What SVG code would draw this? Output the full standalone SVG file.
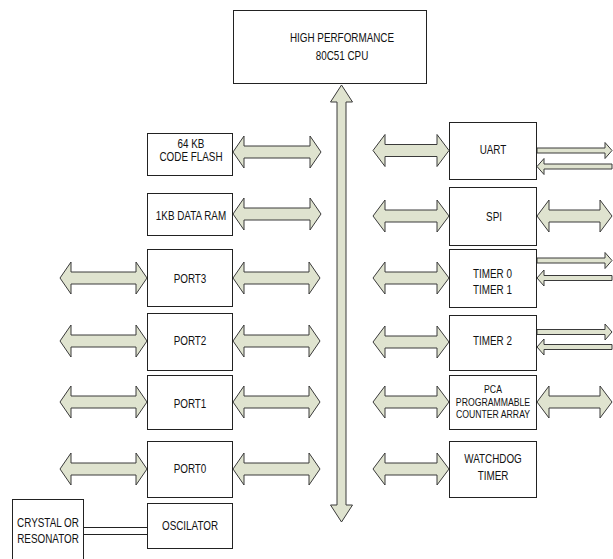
<svg xmlns="http://www.w3.org/2000/svg" width="613" height="559" viewBox="0 0 613 559">
<style>
.box{fill:#fff;stroke:#222;stroke-width:1}
.arr{fill:#dfe3cf;stroke:#3a3a3a;stroke-width:1;stroke-linejoin:miter}
.ln{stroke:#222;stroke-width:1;fill:none}
text{font-family:"Liberation Sans",Arial,sans-serif;font-size:12.5px;fill:#111;text-anchor:middle}
.sm{font-size:11px}
</style>
<rect width="613" height="559" fill="#fff"/>
<g id="connectors">
<path class="arr" d="M341.5,85 L352.5,102 L346,102 L346,505 L352.5,505 L341.5,522 L330.5,505 L337,505 L337,102 L330.5,102 Z"/>
<path class="arr" d="M233,152 L244,136 L244,146 L310,146 L310,136 L321,152 L310,168 L310,158 L244,158 L244,168 Z"/>
<path class="arr" d="M233,214 L244,198 L244,208 L310,208 L310,198 L321,214 L310,230 L310,220 L244,220 L244,230 Z"/>
<path class="arr" d="M60,278 L71,262 L71,272 L136,272 L136,262 L147,278 L136,294 L136,284 L71,284 L71,294 Z"/>
<path class="arr" d="M60,341 L71,325 L71,335 L136,335 L136,325 L147,341 L136,357 L136,347 L71,347 L71,357 Z"/>
<path class="arr" d="M60,402 L71,386 L71,396 L136,396 L136,386 L147,402 L136,418 L136,408 L71,408 L71,418 Z"/>
<path class="arr" d="M60,469 L71,453 L71,463 L136,463 L136,453 L147,469 L136,485 L136,475 L71,475 L71,485 Z"/>
<path class="arr" d="M233,278 L244,262 L244,272 L309,272 L309,262 L320,278 L309,294 L309,284 L244,284 L244,294 Z"/>
<path class="arr" d="M233,341 L244,325 L244,335 L309,335 L309,325 L320,341 L309,357 L309,347 L244,347 L244,357 Z"/>
<path class="arr" d="M233,402 L244,386 L244,396 L309,396 L309,386 L320,402 L309,418 L309,408 L244,408 L244,418 Z"/>
<path class="arr" d="M233,469 L244,453 L244,463 L309,463 L309,453 L320,469 L309,485 L309,475 L244,475 L244,485 Z"/>
<path class="arr" d="M373,150.5 L385,134.5 L385,144.5 L437,144.5 L437,134.5 L449,150.5 L437,166.5 L437,156.5 L385,156.5 L385,166.5 Z"/>
<path class="arr" d="M373,216 L385,200 L385,210 L437,210 L437,200 L449,216 L437,232 L437,222 L385,222 L385,232 Z"/>
<path class="arr" d="M373,278 L385,262 L385,272 L437,272 L437,262 L449,278 L437,294 L437,284 L385,284 L385,294 Z"/>
<path class="arr" d="M373,342 L385,326 L385,336 L437,336 L437,326 L449,342 L437,358 L437,348 L385,348 L385,358 Z"/>
<path class="arr" d="M373,402 L385,386 L385,396 L437,396 L437,386 L449,402 L437,418 L437,408 L385,408 L385,418 Z"/>
<path class="arr" d="M373,469 L385,453 L385,463 L437,463 L437,453 L449,469 L437,485 L437,475 L385,475 L385,485 Z"/>
<path class="arr" d="M537,216 L549,200 L549,210 L600,210 L600,200 L612,216 L600,232 L600,222 L549,222 L549,232 Z"/>
<path class="arr" d="M537,402 L549,386 L549,396 L600,396 L600,386 L612,402 L600,418 L600,408 L549,408 L549,418 Z"/>
<path class="arr" d="M537,148 L605,148 L605,142.5 L612,150.5 L605,158.5 L605,153 L537,153 Z"/>
<path class="arr" d="M612,164 L544,164 L544,158.5 L537,166.5 L544,174.5 L544,169 L612,169 Z"/>
<path class="arr" d="M537,258 L605,258 L605,252.5 L612,260.5 L605,268.5 L605,263 L537,263 Z"/>
<path class="arr" d="M612,275.5 L544,275.5 L544,270 L537,278 L544,286 L544,280.5 L612,280.5 Z"/>
<path class="arr" d="M537,329.5 L605,329.5 L605,324 L612,332 L605,340 L605,334.5 L537,334.5 Z"/>
<path class="arr" d="M612,344.5 L544,344.5 L544,339 L537,347 L544,355 L544,349.5 L612,349.5 Z"/>
<line class="ln" x1="84" y1="527.5" x2="147" y2="527.5"/>
<line class="ln" x1="84" y1="534.5" x2="147" y2="534.5"/>
</g>
<g id="cpu"><rect class="box" x="233.5" y="10.5" width="193" height="73"/><text transform="translate(342,42) scale(0.79,1)">HIGH PERFORMANCE</text><text transform="translate(342,60) scale(0.79,1)">80C51 CPU</text></g>
<g id="flash"><rect class="box" x="147.5" y="133.5" width="85" height="42"/><text transform="translate(191,148) scale(0.79,1)">64 KB</text><text transform="translate(191,161) scale(0.79,1)">CODE FLASH</text></g>
<g id="ram"><rect class="box" x="147.5" y="193.5" width="85" height="42"/><text transform="translate(191,220) scale(0.79,1)">1KB DATA RAM</text></g>
<g id="port3"><rect class="box" x="147.5" y="249.5" width="85" height="57"/><text transform="translate(190,283) scale(0.79,1)">PORT3</text></g>
<g id="port2"><rect class="box" x="147.5" y="313.5" width="85" height="57"/><text transform="translate(190,345) scale(0.79,1)">PORT2</text></g>
<g id="port1"><rect class="box" x="147.5" y="375.5" width="85" height="54"/><text transform="translate(190,408) scale(0.79,1)">PORT1</text></g>
<g id="port0"><rect class="box" x="147.5" y="441.5" width="85" height="56"/><text transform="translate(190,473) scale(0.79,1)">PORT0</text></g>
<g id="oscillator"><rect class="box" x="147.5" y="503.5" width="85" height="45"/><text transform="translate(190,530) scale(0.79,1)">OSCILATOR</text></g>
<g id="crystal"><rect class="box" x="12.5" y="499.5" width="71" height="70"/><text transform="translate(48,527) scale(0.79,1)">CRYSTAL OR</text><text transform="translate(48,543) scale(0.79,1)">RESONATOR</text></g>
<g id="uart"><rect class="box" x="449.5" y="122.5" width="87" height="57"/><text transform="translate(493,154) scale(0.79,1)">UART</text></g>
<g id="spi"><rect class="box" x="449.5" y="187.5" width="87" height="58"/><text transform="translate(494,221) scale(0.79,1)">SPI</text></g>
<g id="timer01"><rect class="box" x="449.5" y="249.5" width="87" height="58"/><text transform="translate(492.5,278) scale(0.79,1)">TIMER 0</text><text transform="translate(492.5,294) scale(0.79,1)">TIMER 1</text></g>
<g id="timer2"><rect class="box" x="449.5" y="315.5" width="87" height="55"/><text transform="translate(492.5,345) scale(0.79,1)">TIMER 2</text></g>
<g id="pca"><rect class="box" x="449.5" y="375.5" width="87" height="54"/><text class="sm" transform="translate(493,393) scale(0.79,1)">PCA</text><text class="sm" transform="translate(493,405.5) scale(0.79,1)">PROGRAMMABLE</text><text class="sm" transform="translate(493,418) scale(0.79,1)">COUNTER ARRAY</text></g>
<g id="watchdog"><rect class="box" x="449.5" y="441.5" width="87" height="56"/><text transform="translate(493,463) scale(0.79,1)">WATCHDOG</text><text transform="translate(493,480) scale(0.79,1)">TIMER</text></g>
</svg>
